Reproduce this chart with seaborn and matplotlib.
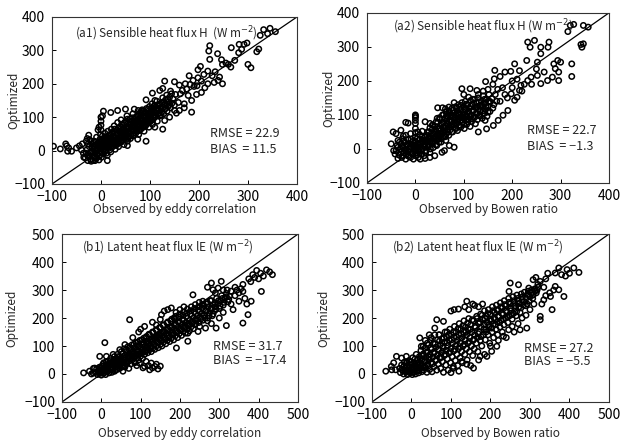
import matplotlib
matplotlib.use("Agg")
import matplotlib.pyplot as plt
import seaborn as sns
import pandas as pd

# Half-hourly fluxes (W m-2): observed vs. optimized model output
h_eddy = [
    (-32,-22),(-30,-8),(-28,4),(-27,-30),(-25,-16),(-24,12),(-23,32),(-21,-26),(-20,-4),(-19,20),
    (-18,8),(-16,-30),(-15,-18),(-14,28),(-13,-6),(-12,6),(-11,16),(-10,-24),(-9,40),(-8,-12),
    (-7,2),(-6,24),(-5,12),(-4,-28),(-3,-16),(-2,34),(-1,48),(0,-4),(0,8),(0,20),(0,62),(0,76),
    (0,88),(0,100),(1,-20),(2,30),(3,44),(4,14),(5,-10),(5,2),(6,24),(7,36),(8,52),(9,-2),(10,10),
    (11,20),(12,30),(12,42),(13,-14),(14,58),(15,6),(16,16),(17,26),(18,38),(19,48),(20,-4),(21,64),
    (22,10),(23,22),(24,32),(25,44),(26,56),(27,74),(28,16),(29,4),(30,28),(31,38),(32,50),(33,62),
    (34,84),(35,22),(36,12),(37,34),(38,46),(39,58),(40,70),(41,92),(42,26),(43,40),(44,52),(45,64),
    (46,78),(47,18),(48,34),(49,46),(50,58),(51,70),(52,86),(53,104),(54,28),(55,42),(56,54),(57,66),
    (58,78),(59,94),(60,36),(61,50),(62,62),(63,74),(64,88),(65,110),(66,44),(67,58),(68,70),(69,82),
    (70,96),(71,52),(72,64),(73,76),(74,90),(75,104),(76,120),(77,48),(78,60),(79,72),(80,84),(81,98),
    (82,112),(83,66),(84,78),(85,92),(86,104),(87,118),(88,58),(89,72),(90,86),(91,98),(92,112),
    (93,126),(94,80),(95,92),(96,104),(97,118),(98,70),(99,132),(100,86),(101,98),(102,110),(103,124),
    (104,140),(105,78),(106,92),(107,106),(108,118),(109,132),(110,100),(112,114),(113,126),(114,148),
    (115,88),(116,108),(118,120),(119,136),(120,104),(122,128),(124,116),(125,144),(126,158),(128,110),
    (130,124),(131,138),(132,152),(134,166),(135,118),(137,132),(138,146),(140,160),(142,128),(144,170),
    (145,142),(147,155),(150,136),(152,168),
    (-28,-14),(-26,20),(-22,-8),(-20,28),(-17,-2),(-15,12),(-12,-20),(-10,26),(-8,-2),(-6,8),(-4,18),
    (-2,-8),(-1,26),(1,12),(2,-6),(3,22),(4,36),(6,4),(7,16),(8,28),(10,40),(11,-8),(13,24),(14,10),
    (16,34),(17,46),(18,2),(20,22),(21,32),(23,54),(24,12),(26,40),(27,24),(28,64),(30,46),(31,16),
    (33,32),(34,52),(36,68),(37,22),(39,40),(40,58),(42,78),(43,30),(45,48),(46,62),(48,84),(49,38),
    (51,52),(52,66),(54,94),(55,36),(57,56),(58,70),(60,86),(61,44),(63,62),(64,98),(66,76),(67,48),
    (69,66),(70,84),(72,102),(73,58),(75,72),(76,92),(78,110),(79,62),(81,76),(82,90),(84,122),(85,70),
    (87,84),(88,100),(90,114),(91,74),(93,92),(94,108),(96,124),(97,88),(99,104),(101,116),(102,90),
    (104,128),(106,100),(108,114),(110,136),(112,106),(114,120),(116,134),(118,112),(121,140),(123,106),
    (126,130),(128,146),(132,126),(136,154),(140,138),
    (-97,13),(-83,5),(-72,20),(-70,14),(-66,8),(-68,-2),(-60,-2),(-50,8),(-44,14),(-40,2),(-36,-8),
    (-38,20),(-35,-20),(-28,36),(-25,46),(-30,28),(-20,-32),(-12,-30),(13,-30),(-4,70),(-6,62),(5,118),
    (3,104),(20,114),(34,120),(50,124),(68,124),(82,118),(92,152),(110,150),(126,186),(130,208),
    (150,206),(160,196),(166,180),(175,184),(178,165),(185,150),(185,115),(170,128),(158,144),(142,178),
    (120,180),(105,172),(162,170),(195,168),(205,174),(212,188),(218,200),(198,218),(205,208),(188,210),
    (180,224),(198,242),(203,252),(218,238),(227,224),(231,204),(239,210),(242,220),(248,200),(222,314),
    (220,298),(222,273),(238,290),(246,272),(248,258),(266,308),(282,318),(287,303),(281,293),(292,318),
    (298,322),(318,296),(322,304),(300,258),(306,248),(273,270),(260,258),(255,262),(265,250),(233,236),
    (210,228),(196,194),(182,198),(172,200),(126,64),(92,28),(75,34),(54,15),(110,70),(130,90),(140,100),
    (154,112),(160,120),(170,140),(150,120),(332,362),(340,350),(345,366),(356,356),(325,345),(190,192),
]

h_bowen = [
    (-40,-5),(-38,10),(-36,25),(-34,-18),(-32,0),(-30,15),(-28,-25),(-27,30),(-25,5),(-24,-12),(-22,20),
    (-20,-30),(-20,-5),(-18,10),(-16,-20),(-15,28),(-14,0),(-12,15),(-10,-25),(-10,-8),(-8,5),(-6,22),
    (-5,-15),(-4,-30),(-2,10),(0,-20),(0,-5),(0,8),(0,20),(0,35),(0,48),(0,60),(0,75),(0,84),(0,92),
    (2,-12),(4,2),(5,16),(6,-25),(8,-8),(9,28),(10,6),(12,-15),(13,18),(14,36),(15,0),(17,10),(18,-20),
    (19,26),(20,14),(22,-5),(23,40),(24,20),(25,5),(27,30),(28,50),(29,12),(30,-10),(31,24),(32,38),
    (34,16),(35,58),(36,30),(37,4),(38,44),(40,22),(41,66),(42,36),(43,52),(44,10),(45,28),(46,78),
    (47,46),(48,60),(49,20),(50,38),(51,88),(52,54),(53,70),(54,30),(55,44),(56,100),(57,62),(58,78),
    (59,36),(60,52),(61,90),(62,68),(63,108),(64,44),(65,82),(66,58),(67,96),(68,72),(69,40),(70,112),
    (71,86),(72,56),(73,100),(74,66),(75,80),(76,120),(77,50),(78,92),(79,70),(80,106),(81,84),(82,62),
    (83,124),(84,98),(85,76),(86,112),(87,54),(88,88),(89,130),(90,70),(91,104),(92,82),(93,118),(94,64),
    (95,96),(96,136),(97,78),(98,110),(99,90),(100,124),(101,60),(102,100),(103,140),(104,84),(105,116),
    (106,72),(107,96),(108,130),(109,108),(110,88),(112,120),(113,66),(114,142),(115,100),(116,80),
    (118,130),(119,112),(120,92),(122,146),(123,122),(124,74),(125,104),(126,136),(128,86),(129,116),
    (130,150),(132,98),(133,128),(134,110),(136,140),(138,90),(139,122),(140,156),(142,104),(144,134),
    (145,116),(147,146),(148,96),(150,126),(152,160),(154,110),(155,138),(158,148),(160,120),(162,130),
    (165,160),(168,140),
    (-36,5),(-33,20),(-30,-10),(-28,8),(-26,-20),(-24,24),(-22,-2),(-19,-15),(-17,14),(-15,-8),(-13,-22),
    (-11,6),(-9,28),(-7,-12),(-5,12),(-3,-2),(-1,24),(1,4),(3,-18),(3,30),(6,14),(7,-6),(9,42),(11,16),
    (12,-2),(14,52),(16,24),(18,6),(20,34),(21,-10),(23,22),(25,50),(26,10),(28,34),(30,62),(31,0),
    (33,46),(35,20),(36,70),(38,30),(40,50),(42,12),(43,80),(45,40),(47,60),(48,28),(50,92),(52,46),
    (53,20),(55,74),(57,50),(58,100),(60,64),(62,36),(64,96),(66,74),(67,50),(69,104),(71,64),(73,82),
    (75,50),(76,96),(78,114),(80,72),(82,92),(84,60),(85,120),(87,80),(89,100),(91,66),(93,92),(94,128),
    (96,84),(98,100),(100,72),(102,116),(104,94),(106,132),(108,80),(110,110),(112,96),(114,126),(116,88),
    (118,146),(120,114),(123,94),(126,124),(128,104),(131,138),(134,96),(137,130),(140,112),(143,146),
    (146,124),(150,108),(153,140),
    (-50,15),(-46,50),(-40,45),(-36,-28),(-30,55),(-25,38),(-20,78),(-15,76),(-20,40),(-10,45),(0,100),
    (0,96),(-45,-5),(-42,-15),(5,50),(10,-30),(20,-28),(30,-25),(40,-20),(55,-10),(60,-5),(63,25),(80,5),
    (70,10),(35,70),(30,75),(20,80),(45,90),(56,121),(46,121),(69,123),(62,118),(80,136),(96,177),
    (113,177),(127,172),(100,160),(110,152),(151,138),(130,50),(144,84),(161,69),(147,59),(171,84),
    (181,99),(191,113),(205,143),(210,152),(198,162),(145,198),(163,206),(164,231),(175,213),(185,226),
    (197,228),(205,250),(215,172),(218,187),(232,201),(239,211),(252,216),(266,226),(252,255),(259,192),
    (273,201),(259,280),(232,314),(246,319),(237,299),(259,299),(276,314),(274,299),(286,250),(294,260),
    (289,236),(296,226),(296,201),(283,211),(300,255),(323,250),(323,213),(344,299),(347,309),(342,307),
    (320,363),(327,366),(347,363),(357,358),(315,345),(230,260),(215,230),(180,180),(190,150),(170,175),
    (175,140),(185,160),(200,180),(220,170),(225,190),(160,190),(150,175),(140,170),(130,160),(240,190),
    (250,235),(210,205),(200,200),
]

le_eddy = [
    (-15,5),(-12,18),(-10,-2),(-8,10),(-5,24),(-4,2),(-2,14),(0,-4),(0,6),(2,28),(3,16),(5,2),(6,40),
    (8,10),(10,22),(11,-2),(12,32),(14,8),(15,18),(17,46),(18,26),(20,4),(21,36),(23,14),(24,56),(25,24),
    (27,6),(28,40),(30,18),(31,30),(33,62),(34,10),(35,48),(37,24),(38,36),(40,16),(41,70),(42,52),
    (44,30),(45,42),(47,20),(48,62),(50,36),(51,80),(52,48),(54,26),(55,58),(57,40),(58,90),(60,30),
    (61,68),(62,50),(64,80),(65,38),(67,60),(68,98),(70,46),(71,74),(72,56),(74,88),(75,36),(77,66),
    (78,104),(80,52),(81,80),(82,62),(84,94),(85,44),(87,72),(88,112),(90,58),(91,86),(92,68),(94,100),
    (95,50),(97,80),(98,120),(100,64),(101,92),(102,74),(104,108),(105,56),(107,88),(108,128),(110,70),
    (111,98),(112,80),(114,116),(115,134),(117,94),(118,76),(120,106),(121,142),(122,86),(124,122),
    (125,100),(127,80),(128,114),(130,150),(131,92),(133,130),(134,108),(136,88),(137,122),(139,158),
    (140,100),(142,138),(143,114),(145,94),(146,128),(148,166),(150,106),(151,146),(152,122),(154,100),
    (155,136),(157,174),(158,114),(160,152),(162,130),(164,108),(165,144),(167,182),(168,120),(170,160),
    (172,138),(174,116),(175,152),(177,190),(178,128),(180,168),(182,146),(184,122),(185,160),(187,196),
    (188,136),(190,176),(192,154),(194,130),(195,168),(197,204),(198,144),(200,184),(202,162),(204,138),
    (205,176),(207,210),(208,152),(210,192),(212,170),(214,146),(215,184),(217,218),(218,160),(220,200),
    (222,178),(224,154),(225,192),(227,226),(228,168),(230,208),(232,186),(234,162),(235,200),(237,234),
    (238,176),(240,216),(242,194),(245,208),(247,240),(248,184),(250,224),(252,202),(255,216),(257,248),
    (258,192),(260,232),(262,210),(265,224),(268,256),(270,200),(272,240),(275,218),(278,232),(280,262),
    (282,208),(285,248),(288,226),(290,240),(293,270),(296,252),(300,234),(303,262),(306,280),(310,246),
    (314,270),(318,288),(322,258),(326,278),(330,296),
    (-6,6),(-2,22),(1,10),(4,34),(7,4),(9,18),(13,44),(16,10),(19,30),(22,48),(26,16),(29,34),(32,52),
    (36,14),(39,44),(43,62),(46,28),(49,50),(53,72),(56,34),(59,58),(63,86),(66,46),(69,66),(73,94),
    (76,54),(79,78),(83,106),(86,62),(89,84),(93,114),(96,70),(99,96),(103,122),(106,78),(109,108),
    (113,130),(116,86),(119,116),(123,140),(126,94),(129,126),(132,148),(135,104),(138,134),(141,156),
    (144,112),(147,140),(150,166),(153,118),(156,150),(159,176),(162,124),(166,156),(169,186),(171,130),
    (176,166),(179,196),(181,140),(186,174),(189,206),(191,148),(196,186),(199,214),(201,156),(206,194),
    (209,222),(211,164),(216,206),(219,232),(221,172),(226,214),(229,240),(231,180),(236,222),(239,248),
    (241,190),(246,228),(249,256),(253,196),(256,236),(261,244),(264,200),(267,226),(271,252),(274,208),
    (277,262),(281,236),(284,214),(289,254),(292,232),(298,262),(302,242),(308,270),(312,256),(318,276),
    (324,266),
    (-45,4),(-20,20),(-21,4),(-17,21),(-4,63),(13,63),(9,112),(38,51),(47,87),(30,70),(72,194),(60,105),
    (80,130),(95,150),(110,170),(100,160),(153,212),(169,230),(178,236),(160,225),(150,195),(233,283),
    (258,260),(280,325),(305,331),(284,301),(297,307),(270,310),(290,290),(320,300),(340,310),(310,300),
    (350,290),(335,230),(318,173),(292,164),(265,164),(246,152),(220,146),(220,117),(191,93),(360,182),
    (373,212),(381,260),(370,250),(365,270),(350,260),(340,280),(360,295),(407,295),(380,330),(390,345),
    (395,370),(405,360),(412,350),(420,372),(428,365),(435,355),(400,340),(385,355),(375,340),(360,320),
    (355,305),(345,300),(97,39),(106,22),(110,27),(114,45),(120,30),(123,15),(127,39),(130,22),(136,27),
    (140,35),(144,18),(150,28),(90,30),(85,40),(250,170),(240,180),(200,230),(210,240),(185,200),
    (190,220),(130,185),(140,175),(-30,10),(-25,0),(55,10),(70,20),(60,25),(300,200),(310,220),(330,250),
    (280,180),(270,190),
]

le_bowen = [
    (-30,20),(-28,5),(-25,32),(-22,12),(-20,0),(-18,42),(-16,22),(-14,6),(-12,30),(-10,-2),(-8,14),
    (-6,48),(-5,24),(-3,4),(0,34),(0,14),(2,-2),(3,58),(5,22),(6,8),(8,40),(10,0),(11,28),(12,70),
    (14,12),(15,50),(17,32),(18,4),(20,62),(21,20),(23,40),(24,84),(26,8),(27,52),(29,28),(30,72),
    (31,14),(33,44),(34,92),(36,24),(37,60),(39,6),(40,80),(41,36),(43,104),(44,52),(46,16),(47,70),
    (48,120),(50,40),(51,88),(52,8),(54,60),(55,108),(57,26),(58,78),(59,140),(61,48),(62,96),(64,14),
    (65,66),(66,122),(68,36),(69,86),(70,140),(72,56),(73,104),(74,20),(76,76),(77,126),(78,44),(80,94),
    (81,6),(83,66),(84,114),(85,150),(87,32),(88,84),(89,132),(91,54),(92,102),(93,14),(95,74),(96,120),
    (97,160),(99,40),(100,92),(101,140),(103,62),(104,110),(105,20),(107,82),(108,130),(109,170),
    (111,48),(112,100),(113,150),(115,70),(116,120),(117,30),(119,90),(120,140),(121,180),(123,58),
    (124,110),(125,160),(127,80),(128,130),(129,40),(131,100),(132,150),(133,190),(135,70),(136,120),
    (137,168),(139,90),(140,140),(141,50),(143,110),(144,160),(145,198),(147,80),(148,130),(150,176),
    (152,100),(153,150),(155,66),(156,120),(157,190),(159,90),(160,140),(162,166),(164,110),(165,206),
    (167,130),(168,80),(170,180),(172,150),(174,120),(175,214),(177,168),(178,100),(180,196),(182,140),
    (184,176),(185,226),(187,122),(188,160),(190,206),(192,184),(194,140),(195,230),(197,170),(198,110),
    (200,214),(202,190),(204,150),(205,240),(207,178),(208,130),(210,220),(212,196),(214,160),(215,246),
    (217,186),(218,140),(220,228),(222,204),(224,168),(225,254),(227,192),(230,236),(232,212),(234,176),
    (235,262),(238,200),(240,244),(242,220),(244,184),(246,270),(248,208),(250,250),(252,226),(255,196),
    (257,276),(258,216),(260,256),(262,234),(265,208),(267,282),(270,262),(272,240),(275,220),(278,286),
    (280,266),(283,246),(286,292),(290,270),(293,250),(296,296),(300,276),(304,300),(308,282),(312,304),
    (316,290),(320,310),
    (-24,16),(-19,28),(-15,12),(-11,42),(-7,26),(-4,12),(-1,44),(1,24),(4,6),(7,30),(9,54),(13,20),
    (16,40),(19,12),(22,54),(25,30),(28,64),(32,22),(35,48),(38,76),(42,28),(45,60),(49,94),(53,36),
    (56,74),(60,108),(63,50),(67,88),(71,118),(75,60),(79,100),(82,128),(86,70),(90,112),(94,140),(98,80),
    (102,122),(106,150),(110,88),(114,132),(118,162),(122,98),(126,142),(130,172),(134,106),(138,152),
    (142,182),(146,116),(149,160),(154,194),(158,124),(161,170),(166,198),(169,144),(173,186),(176,134),
    (179,210),(183,160),(186,198),(189,150),(193,216),(196,176),(199,196),(203,164),(206,226),(209,200),
    (213,176),(216,230),(219,206),(223,184),(226,240),(229,216),(233,196),(236,248),(239,226),(243,204),
    (247,256),(251,236),(254,212),(259,262),(263,244),(266,222),(269,270),(273,252),(277,236),(281,276),
    (285,258),(289,244),(294,284),(298,262),(303,290),(307,270),(313,296),(318,300),
    (-65,10),(-51,27),(-45,40),(-38,63),(-25,57),(-13,63),(-13,39),(-40,15),(-50,15),(21,129),(25,99),
    (59,164),(81,188),(64,194),(108,230),(119,232),(100,225),(90,150),(70,140),(50,130),(40,110),(30,100),
    (45,140),(35,120),(135,240),(145,230),(140,260),(155,250),(170,240),(180,250),(160,245),(247,295),
    (250,325),(271,319),(297,307),(308,337),(326,331),(315,345),(320,320),(340,340),(335,310),(345,360),
    (364,361),(373,379),(394,373),(411,379),(424,363),(380,355),(400,360),(390,350),(364,313),(373,301),
    (352,277),(335,265),(356,230),(386,277),(326,206),(326,194),(292,164),(275,158),(246,158),(233,135),
    (216,99),(203,81),(191,63),(174,63),(157,21),(127,45),(106,27),(140,35),(120,10),(100,5),(150,30),
    (170,50),(185,70),(200,100),(220,120),(240,130),(260,150),(280,200),(300,230),(330,250),(350,290),
    (360,300),(340,280),(310,250),(290,210),(270,180),(255,170),(230,150),
]

h_ticks = [-100, 0, 100, 200, 300, 400]
le_ticks = [-100, 0, 100, 200, 300, 400, 500]

titles = [
    "(a1) Sensible heat flux H  (W m$^{-2}$)",
    "(a2) Sensible heat flux H (W m$^{-2}$)",
    "(b1) Latent heat flux lE (W m$^{-2}$)",
    "(b2) Latent heat flux lE (W m$^{-2}$)",
]
xlabels = ["Observed by eddy correlation", "Observed by Bowen ratio",
           "Observed by eddy correlation", "Observed by Bowen ratio"]
rmse = [22.9, 22.7, 31.7, 27.2]
bias = [11.5, -1.3, -17.4, -5.5]

sns.set_style("ticks")
plt.rcParams["font.family"] = ["Noto Sans CJK JP", "DejaVu Sans"]
plt.rcParams["axes.unicode_minus"] = True

fig = plt.figure(figsize=(6.21, 4.43), dpi=100)
fig.patch.set_facecolor("white")

# axes rectangles in figure fractions
rects = [
    (0.0837, 0.5847, 0.3945, 0.3770),
    (0.5910, 0.5870, 0.3897, 0.3840),
    (0.0998, 0.0926, 0.3800, 0.3790),
    (0.5990, 0.0926, 0.3816, 0.3790),
]
title_pos = [(0.094, 0.90), (0.108, 0.92), (0.085, 0.92), (0.083, 0.92)]
stat_pos = [(0.645, 0.305, 0.205), (0.66, 0.31, 0.215), (0.64, 0.33, 0.245), (0.64, 0.32, 0.24)]
xlabel_y = [-0.112, -0.118, -0.149, -0.149]
ylabel_x = [-0.131, -0.132, -0.186, -0.175]
datasets = [h_eddy, h_bowen, le_eddy, le_bowen]
tick_sets = [h_ticks, h_ticks, le_ticks, le_ticks]

for i in range(4):
    ax = fig.add_axes(rects[i])
    df = pd.DataFrame(datasets[i], columns=["observed", "optimized"])
    sns.scatterplot(data=df, x="observed", y="optimized", ax=ax, marker="o", s=15,
                    facecolors="none", edgecolor="black", linewidth=1.1, legend=False, zorder=3)
    ticks = tick_sets[i]
    lim = (ticks[0], ticks[-1])
    ax.plot(lim, lim, color="black", lw=0.9, zorder=2)
    ax.set_xlim(lim)
    ax.set_ylim(lim)
    ax.set_xticks(ticks)
    ax.set_yticks(ticks)
    ax.tick_params(direction="in", length=3, width=0.7, labelsize=10, pad=5, colors="black")
    ax.tick_params(axis="x", pad=4)
    for sp in ax.spines.values():
        sp.set_visible(True)
        sp.set_linewidth(0.8)
        sp.set_color("#333333")
    ax.set_xlabel(xlabels[i], fontsize=8.5)
    ax.set_ylabel("Optimized", fontsize=8.5)
    ax.xaxis.set_label_coords(0.5, xlabel_y[i])
    ax.yaxis.set_label_coords(ylabel_x[i], 0.5)
    tx, ty = title_pos[i]
    ax.text(tx, ty, titles[i], transform=ax.transAxes, fontsize=8.5, va="center", ha="left")
    sx, sy1, sy2 = stat_pos[i]
    ax.text(sx, sy1, f"RMSE = {rmse[i]}", transform=ax.transAxes, fontsize=9, va="center", ha="left")
    ax.text(sx, sy2, f"BIAS  = {bias[i]}".replace("-", "\u2212"), transform=ax.transAxes,
            fontsize=9, va="center", ha="left")

fig.savefig("out.png", dpi=100, facecolor="white")
